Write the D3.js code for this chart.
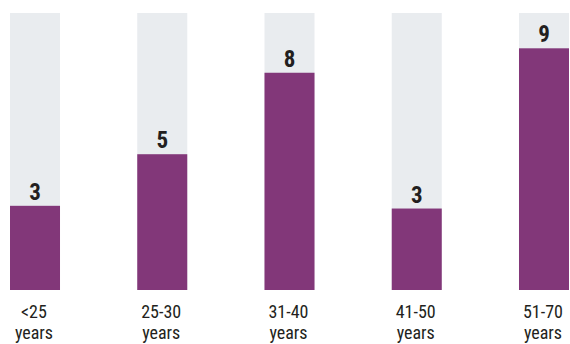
<!DOCTYPE html>
<html>
<head>
<meta charset="utf-8">
<script src="https://cdn.jsdelivr.net/npm/d3@7"></script>
<style>
html,body{margin:0;padding:0;background:#fff;}
svg{display:block;}
text{font-family:"Liberation Sans Narrow","Roboto Condensed","DejaVu Sans Condensed",sans-serif;}
</style>
</head>
<body>
<script>
const categories = ["<25 years", "25-30 years", "31-40 years", "41-50 years", "51-70 years"];
const catLine1 = ["<25", "25-30", "31-40", "41-50", "51-70"];
const catLine2 = ["years", "years", "years", "years", "years"];
const values = [3.1, 5.0, 8.0, 3.0, 8.9];
const valueLabels = ["3", "5", "8", "3", "9"];
const maxValue = 10.2;

const W = 570, H = 344;
const svg = d3.select("body").append("svg").attr("width", W).attr("height", H);

const x = d3.scaleBand().domain(categories).range([10, 569]).paddingInner(0.607).paddingOuter(0);
const y = d3.scaleLinear().domain([0, maxValue]).range([290, 13]);

const g = svg.append("g");
g.selectAll("rect.bg").data(categories).join("rect")
  .attr("class", "bg")
  .attr("x", d => x(d)).attr("width", x.bandwidth())
  .attr("y", y(maxValue)).attr("height", y(0) - y(maxValue))
  .attr("fill", "#e9ecef");

g.selectAll("rect.bar").data(values).join("rect")
  .attr("class", "bar")
  .attr("x", (d, i) => x(categories[i])).attr("width", x.bandwidth())
  .attr("y", d => y(d)).attr("height", d => y(0) - y(d))
  .attr("fill", "#823779");

g.selectAll("text.val").data(values).join("text")
  .attr("class", "val")
  .attr("x", (d, i) => x(categories[i]) + x.bandwidth() / 2)
  .attr("y", d => y(d) - 6)
  .attr("text-anchor", "middle")
  .attr("font-size", 23).attr("font-weight", "bold")
  .attr("fill", "#231f20")
  .text((d, i) => valueLabels[i]);

g.selectAll("text.cat1").data(categories).join("text")
  .attr("class", "cat1")
  .attr("text-anchor", "middle")
  .attr("font-size", 18)
  .attr("fill", "#231f20")
  .attr("x", d => x(d) + x.bandwidth() / 2 - 1).attr("y", 318)
  .text((d, i) => catLine1[i]);
g.selectAll("text.cat2").data(categories).join("text")
  .attr("class", "cat2")
  .attr("text-anchor", "middle")
  .attr("font-size", 18)
  .attr("fill", "#231f20")
  .attr("x", d => x(d) + x.bandwidth() / 2 - 1).attr("y", 339)
  .text((d, i) => catLine2[i]);
</script>
</body>
</html>
